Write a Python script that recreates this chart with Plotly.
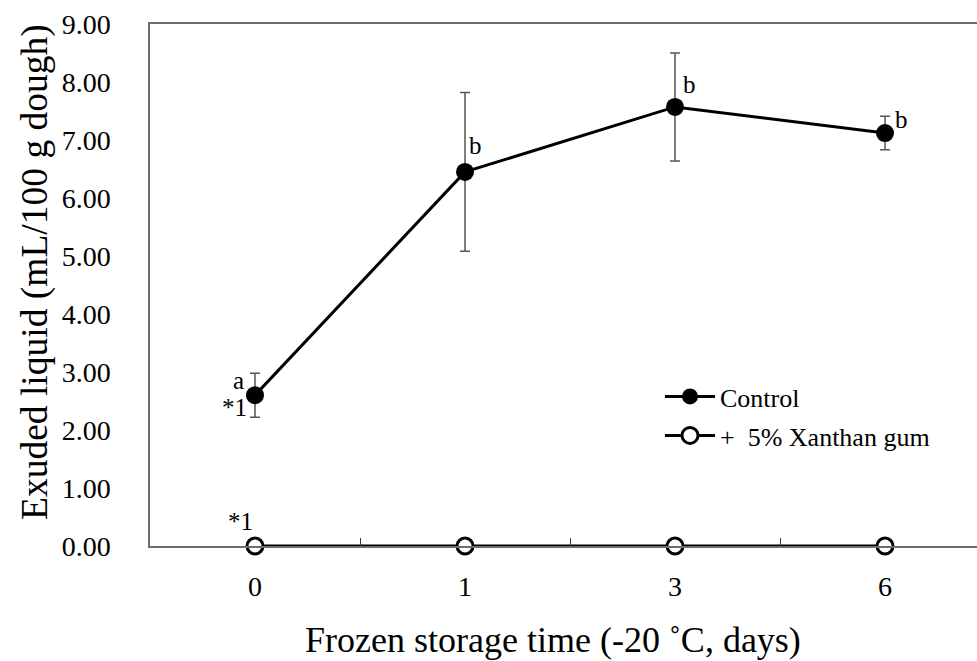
import plotly.graph_objects as go

days = ["0", "1", "3", "6"]
control = [2.60, 6.45, 7.57, 7.12]
control_err = [0.38, 1.37, 0.93, 0.29]
xanthan = [0.0, 0.0, 0.0, 0.0]
control_labels = ["a", "b", "b", "b"]
y_ticks = [0, 1, 2, 3, 4, 5, 6, 7, 8, 9]

FONT = "Liberation Serif, Times New Roman, serif"

fig = go.Figure()
fig.add_trace(go.Scatter(
    x=days, y=xanthan, name="+\u00a0\u00a05% Xanthan gum", mode="lines+markers",
    line=dict(color="black", width=3),
    marker=dict(symbol="circle", size=16, color="white", line=dict(color="black", width=3)),
    cliponaxis=False, legend="legend2",
))
fig.add_trace(go.Scatter(
    x=days, y=control, name="Control", mode="lines+markers",
    line=dict(color="black", width=3),
    marker=dict(symbol="circle", size=18, color="black"),
    error_y=dict(type="data", array=control_err, visible=True, color="#555555", thickness=1.5, width=5),
    cliponaxis=False, legend="legend",
))

# letter annotations (pixel offsets from each point); x given as category index
label_shift = [(-17, 15), (10, 26), (14, 22), (16, 14)]
for i, (v, lab, (dx, dy)) in enumerate(zip(control, control_labels, label_shift)):
    fig.add_annotation(x=i, y=v, text=lab, showarrow=False, xshift=dx, yshift=dy,
                       font=dict(family=FONT, size=25, color="black"))
fig.add_annotation(x=0, y=control[0], text="*1", showarrow=False, xshift=-21, yshift=-12,
                   font=dict(family=FONT, size=25, color="black"))
fig.add_annotation(x=0, y=xanthan[0], text="*1", showarrow=False, xshift=-15, yshift=25,
                   font=dict(family=FONT, size=25, color="black"))

# axis titles
fig.add_annotation(xref="paper", yref="paper", x=(553 - 150) / 827, y=(546 - 640) / 522,
                   xanchor="center", yanchor="middle",
                   text="Frozen storage time (-20 \u02daC, days)", showarrow=False,
                   font=dict(family=FONT, size=36, color="black"))
fig.add_annotation(xref="paper", yref="paper", x=(35 - 150) / 827, y=(546 - 272) / 522,
                   xanchor="center", yanchor="middle",
                   text="Exuded liquid (mL/100 g dough)", showarrow=False, textangle=-90,
                   font=dict(family=FONT, size=37.5, color="black"))

fig.update_layout(
    width=977, height=661,
    margin=dict(l=150, r=0, t=24, b=115),
    paper_bgcolor="white", plot_bgcolor="white",
    font=dict(family=FONT, color="black"),
    showlegend=True,
    legend=dict(x=(660 - 150) / 827, y=(546 - 373) / 522, xanchor="left", yanchor="top",
                itemwidth=50,
                font=dict(family=FONT, size=26, color="black"), bgcolor="rgba(0,0,0,0)"),
    legend2=dict(x=(660 - 150) / 827, y=(546 - 412) / 522, xanchor="left", yanchor="top",
                 itemwidth=50,
                 font=dict(family=FONT, size=26, color="black"), bgcolor="rgba(0,0,0,0)"),
    xaxis=dict(type="category", range=[-0.5, 3.438], showline=True, mirror=True,
               linecolor="#6e6e6e", linewidth=1.5, ticks="inside", tickson="boundaries",
               ticklen=8, tickcolor="#333333", tickwidth=1, showgrid=False, zeroline=False,
               tickfont=dict(family=FONT, size=28, color="black"), ticklabelstandoff=15),
    yaxis=dict(range=[0, 9], tickvals=y_ticks, tickformat=".2f", showline=True,
               linecolor="#6e6e6e", linewidth=1.5, ticks="", showgrid=False, zeroline=False,
               tickfont=dict(family=FONT, size=28, color="black"), ticklabelstandoff=32),
)

fig.write_html("out.html")
